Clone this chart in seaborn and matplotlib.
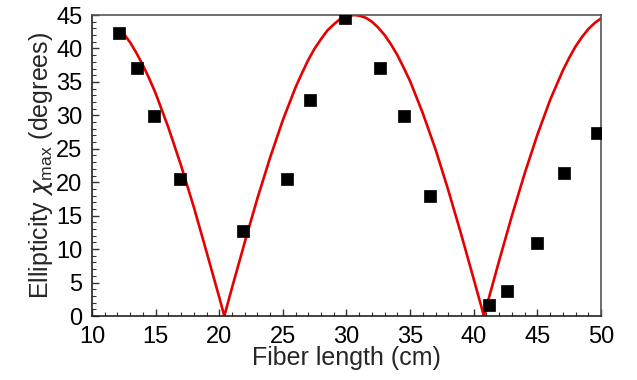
import matplotlib
matplotlib.use("Agg")
import matplotlib.pyplot as plt
from matplotlib.ticker import MultipleLocator
import pandas as pd
import seaborn as sns

# measured ellipticity (squares)
meas_len = [12.1, 13.5, 14.9, 16.9, 21.9, 25.3, 27.1, 29.9, 32.6, 34.5, 36.6,
            41.2, 42.6, 45.0, 47.1, 49.7]
meas_chi = [42.3, 37.1, 29.9, 20.5, 12.7, 20.5, 32.3, 44.5, 37.1, 29.9, 17.9,
            1.6, 3.8, 10.9, 21.4, 27.3]

# theory curve
curve_len = [12.2, 12.5, 13, 13.5, 14, 14.5, 15, 16, 17, 18, 19, 20, 20.4, 21,
             22, 23, 24, 25, 26, 26.5, 27, 27.5, 28, 28.5, 29, 29.5, 30, 30.6,
             31, 31.5, 32, 32.5, 33, 33.5, 34, 34.5, 35, 36, 37, 38, 39, 40,
             40.8, 41, 42, 43, 44, 45, 46, 47, 47.5, 48, 48.5, 49, 49.5, 50]
curve_chi = [42.9, 42.2, 40.9, 39.3, 37.5, 35.5, 33.3, 28.2, 22.5, 16.3, 9.6,
             2.8, 0.0, 4.2, 11.0, 17.6, 23.7, 29.3, 34.2, 36.3, 38.3, 40.0,
             41.4, 42.7, 43.6, 44.4, 44.8, 45.0, 44.9, 44.6, 44.0, 43.1, 42.0,
             40.6, 39.0, 37.1, 35.1, 30.3, 24.9, 18.8, 12.3, 5.5, 0.0, 1.4, 8.3,
             15.0, 21.3, 27.1, 32.3, 36.7, 38.6, 40.3, 41.7, 42.9, 43.8, 44.5]

sns.set_style("white")
plt.rcParams['font.family'] = ['Liberation Sans', 'DejaVu Sans']
plt.rcParams['mathtext.fontset'] = 'custom'
plt.rcParams['mathtext.rm'] = 'Liberation Sans'

meas = pd.DataFrame({'length': meas_len, 'chi': meas_chi})
curve = pd.DataFrame({'length': curve_len, 'chi': curve_chi})

fig = plt.figure(figsize=(6.37, 3.8), dpi=100)
ax = fig.add_axes([0.1444, 0.1684, 0.7991, 0.7921])

sns.lineplot(data=curve, x='length', y='chi', color='#e60000', linewidth=1.9,
             ax=ax, sort=False, zorder=2)
sns.scatterplot(data=meas, x='length', y='chi', marker='s', s=85, color='black',
                edgecolor='black', linewidth=0.5, ax=ax, zorder=3)

ax.set_xlim(10, 50)
ax.set_ylim(0, 45)
ax.xaxis.set_major_locator(MultipleLocator(5))
ax.xaxis.set_minor_locator(MultipleLocator(1))
ax.yaxis.set_major_locator(MultipleLocator(5))
ax.yaxis.set_minor_locator(MultipleLocator(1))
ax.tick_params(which='both', direction='in', top=False, right=False,
               bottom=True, left=True, colors='#333333', labelcolor='black')
ax.tick_params(which='major', length=5, width=1, labelsize=17)
ax.tick_params(axis='x', which='major', pad=7)
ax.tick_params(axis='y', which='major', pad=7)
ax.tick_params(which='minor', length=3, width=0.8)
for sp in ax.spines.values():
    sp.set_color('#555555')
    sp.set_linewidth(1.2)
ax.spines['bottom'].set_color('#222222')
ax.spines['left'].set_color('#222222')

ax.set_xlabel('Fiber length (cm)', fontsize=18, labelpad=-1)
ax.set_ylabel(r'Ellipticity $\chi_{\rm max}$ (degrees)', fontsize=18, labelpad=1)

fig.savefig('out.png', dpi=100)
